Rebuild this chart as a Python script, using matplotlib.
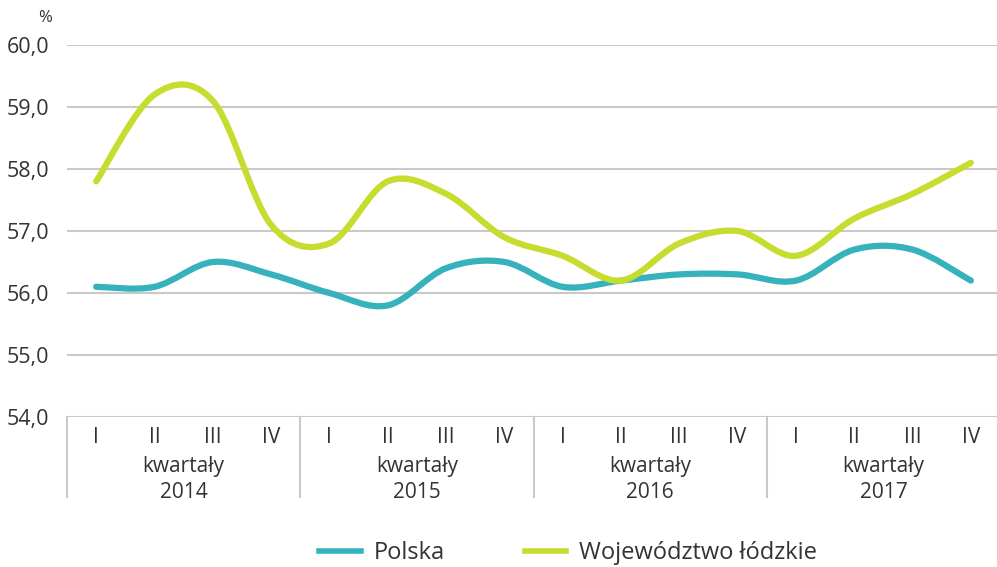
import matplotlib
matplotlib.use('Agg')
from matplotlib import pyplot as plt
from matplotlib.path import Path
from matplotlib.patches import PathPatch
from matplotlib.lines import Line2D

plt.rcParams['font.family'] = ['Open Sans', 'DejaVu Sans']

quarters = ['I', 'II', 'III', 'IV'] * 4
years = ['2014', '2015', '2016', '2017']
polska = [56.1, 56.1, 56.5, 56.3, 56.0, 55.8, 56.4, 56.5,
          56.1, 56.2, 56.3, 56.3, 56.2, 56.7, 56.7, 56.2]
lodzkie = [57.8, 59.2, 59.1, 57.1, 56.8, 57.8, 57.6, 56.9,
           56.6, 56.2, 56.8, 57.0, 56.6, 57.2, 57.6, 58.1]
yticks = [54, 55, 56, 57, 58, 59, 60]

c_pl = '#35b2bb'
c_lo = '#c6dc2e'
grid_c = '#c9c9c9'
txt_c = '#333333'


def smooth_path(ys):
    # catmull-rom -> bezier, like the "smoothed line" in office charts
    xs = list(range(len(ys)))
    pts = list(zip(xs, ys))
    verts = [pts[0]]
    codes = [Path.MOVETO]
    n = len(pts)
    for i in range(n - 1):
        p0 = pts[i - 1] if i > 0 else pts[i]
        p1 = pts[i]
        p2 = pts[i + 1]
        p3 = pts[i + 2] if i + 2 < n else pts[i + 1]
        c1 = (p1[0] + (p2[0] - p0[0]) / 6, p1[1] + (p2[1] - p0[1]) / 6)
        c2 = (p2[0] - (p3[0] - p1[0]) / 6, p2[1] - (p3[1] - p1[1]) / 6)
        verts += [c1, c2, p2]
        codes += [Path.CURVE4] * 3
    return Path(verts, codes)


fig = plt.figure(figsize=(9.97, 5.67), dpi=100)
ax = fig.add_axes([67 / 997, 1 - 417 / 567, 933 / 997, 372 / 567])

for v in yticks:
    ax.axhline(v, color=grid_c, lw=1.5, zorder=1)

for ys, col in [(polska, c_pl), (lodzkie, c_lo)]:
    ax.add_patch(PathPatch(smooth_path(ys), fc='none', ec=col, lw=4.5,
                           capstyle='round', joinstyle='round', zorder=3))

ax.set_xlim(-0.5, 15.5)
ax.set_ylim(54, 60)
ax.set_yticks(yticks)
ax.set_yticklabels([('%.1f' % v).replace('.', ',') for v in yticks],
                   fontsize=15.5, color=txt_c)
ax.tick_params(axis='y', length=0, pad=13)
ax.set_xticks([])
for s in ax.spines.values():
    s.set_visible(False)

fig.text(45 / 997, 1 - 18 / 567, '%', fontsize=12, color=txt_c,
         ha='center', va='center')

# category axis below
trans = ax.get_xaxis_transform()
for i, q in enumerate(quarters):
    ax.text(i, -0.055, q, transform=trans, ha='center', va='center',
            fontsize=15, color=txt_c, clip_on=False)
for k, yr in enumerate(years):
    xc = k * 4 + 1.5
    ax.text(xc, -0.133, 'kwartały', transform=trans, ha='center',
            va='center', fontsize=15, color=txt_c)
    ax.text(xc, -0.203, yr, transform=trans, ha='center', va='center',
            fontsize=15, color=txt_c)
    ax.add_line(Line2D([k * 4 - 0.5] * 2, [0, -0.215], transform=trans,
                       color=grid_c, lw=1.5, clip_on=False))

handles = [Line2D([], [], color=c_pl, lw=4),
           Line2D([], [], color=c_lo, lw=4)]
fig.legend(handles, ['Polska', 'Województwo łódzkie'], loc='center',
           bbox_to_anchor=(0.570, 1 - 553 / 567), ncol=2, frameon=False,
           fontsize=17, handlelength=1.75, handletextpad=0.55,
           columnspacing=3.4, labelcolor=txt_c)

fig.savefig('out.png', dpi=100, facecolor='white')
